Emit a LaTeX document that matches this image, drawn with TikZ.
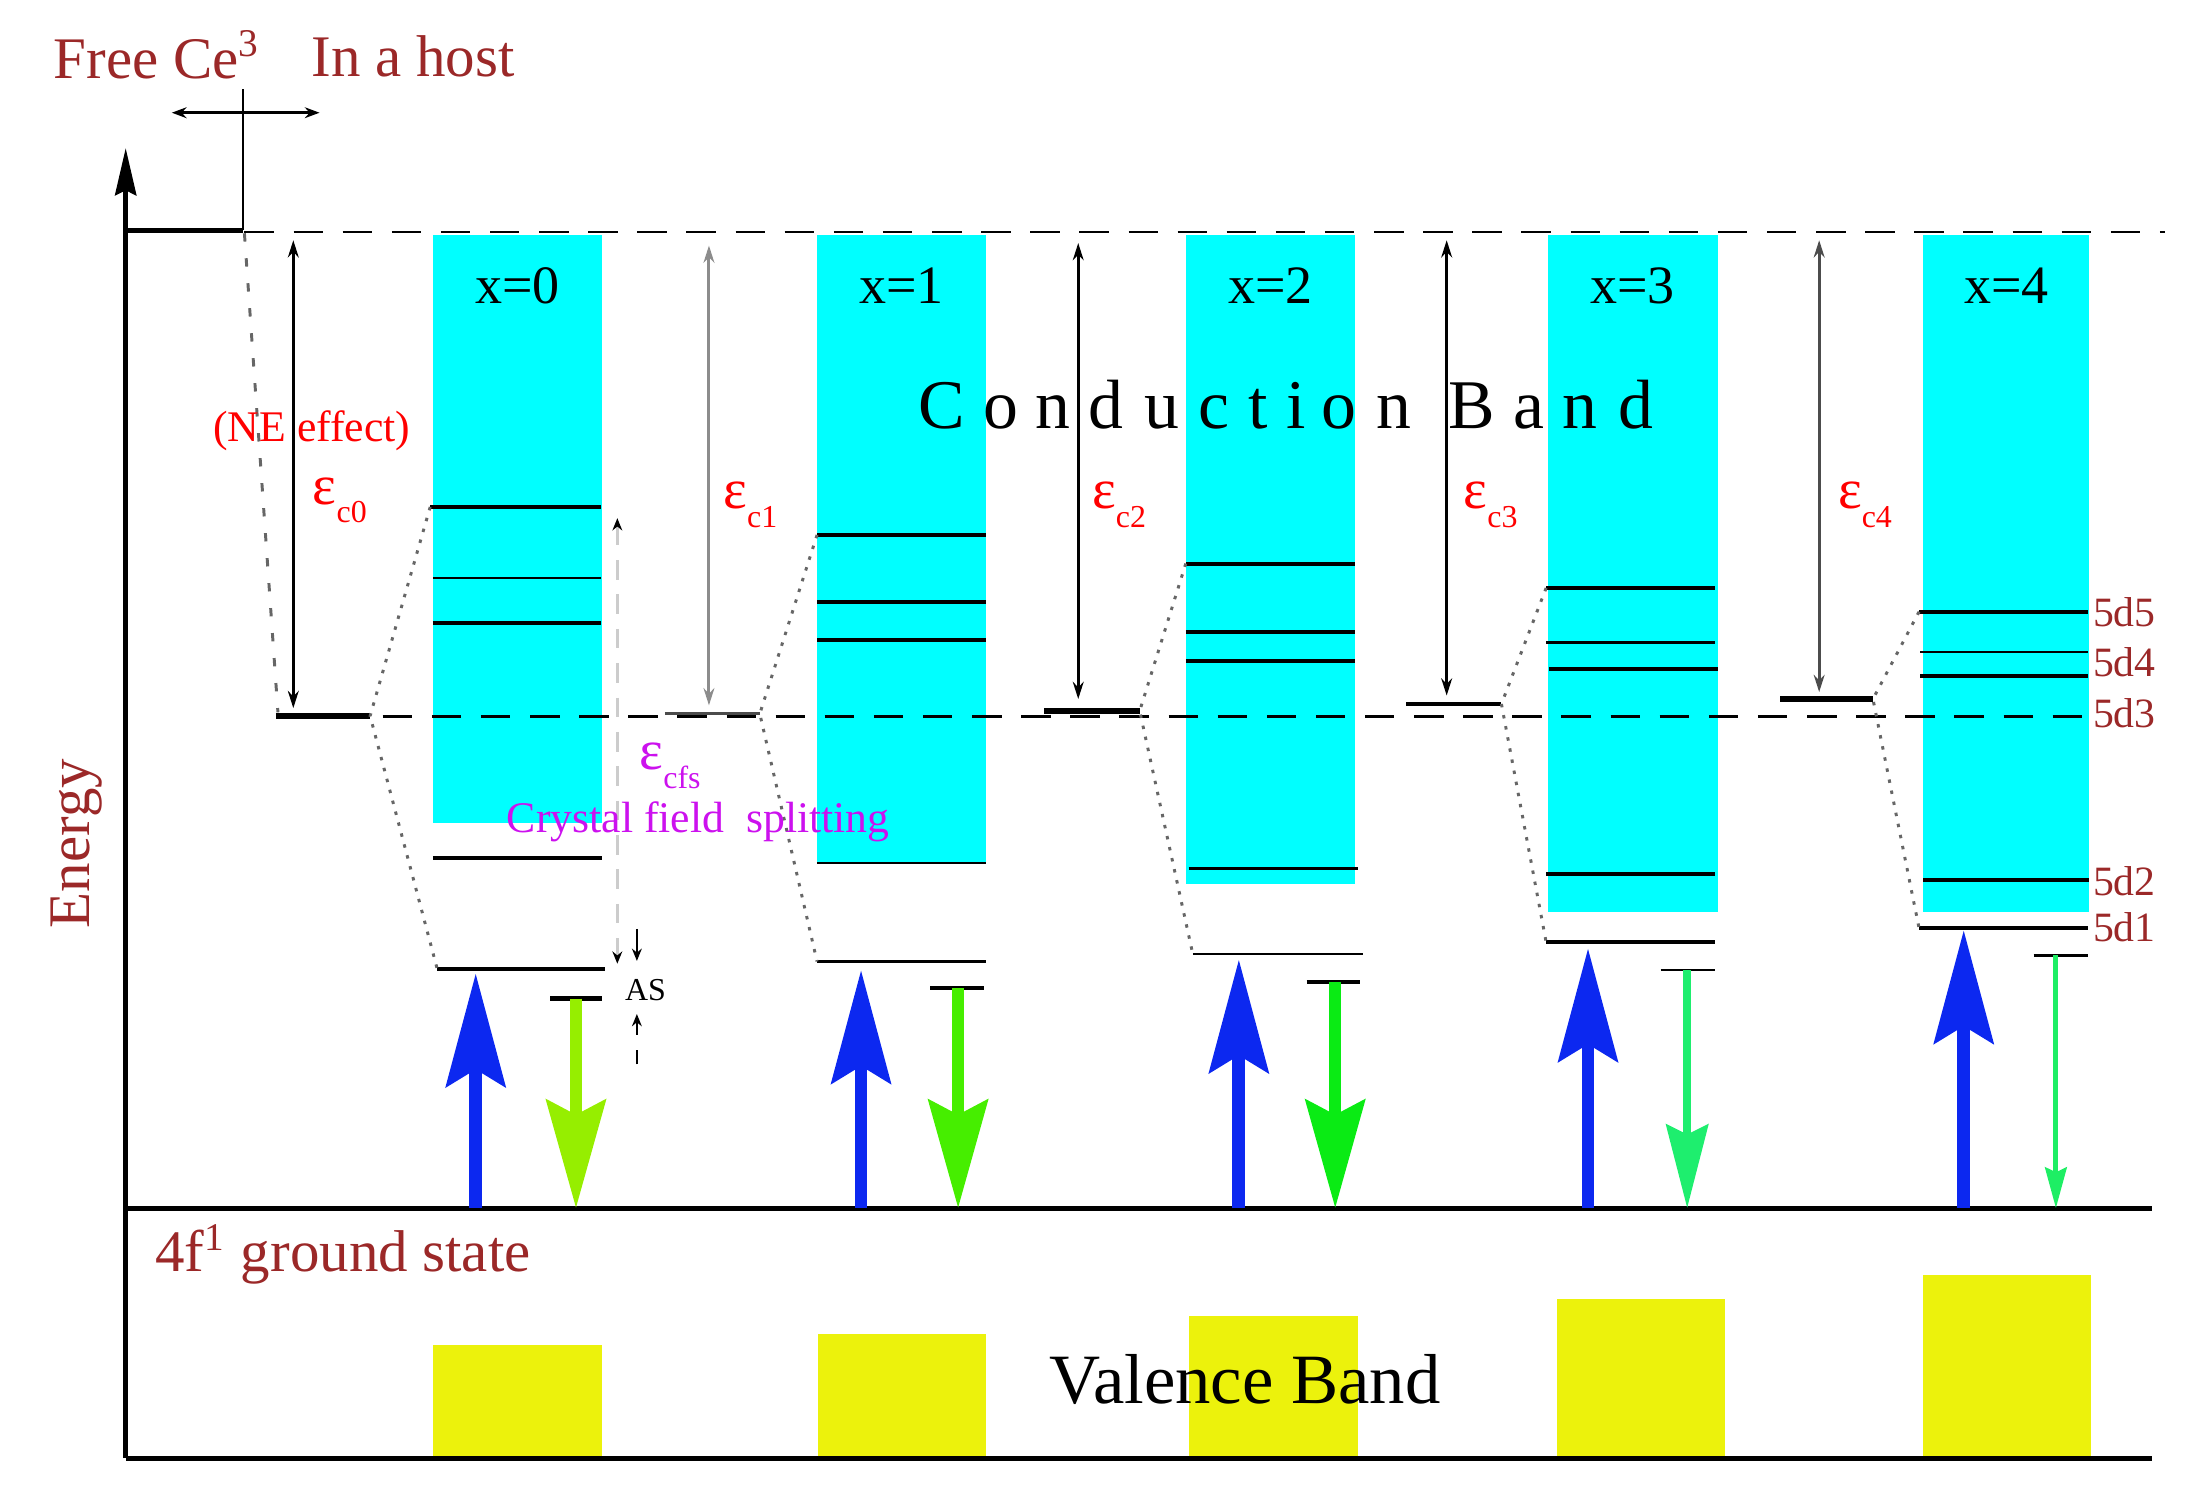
\documentclass[tikz,border=0pt]{standalone}
\usepackage{fontspec}
\setmainfont{Liberation Serif}
\usetikzlibrary{arrows.meta}

\definecolor{hostred}{RGB}{155,40,40}
\definecolor{cbcyan}{RGB}{0,255,255}
\definecolor{vbyellow}{RGB}{236,242,12}
\definecolor{pumpblue}{RGB}{12,40,240}
\definecolor{cfsviolet}{RGB}{204,17,238}
\definecolor{emitA}{RGB}{150,238,0}
\definecolor{emitB}{RGB}{70,238,0}
\definecolor{emitC}{RGB}{10,235,20}
\definecolor{emitD}{RGB}{30,238,110}
\definecolor{emitE}{RGB}{30,238,100}

\newcommand{\ecap}[1]{{\fontsize{11.5}{12}\selectfont ε}\raisebox{-3.8pt}{\fontsize{6.5}{7}\selectfont #1}}

\begin{document}
\begin{tikzpicture}[x=0.01cm, y=-0.01cm,
        every node/.style={inner sep=0pt, outer sep=0pt},
        hosttext/.style={hostred, font=\fontsize{12}{14}\selectfont},
        guide/.style={line width=0.5pt, dash pattern=on 6pt off 4pt},
        cfsdot/.style={black!60, line width=0.6pt, dash pattern=on 0.7pt off 1.6pt},
        ecarrow/.style={line width=0.6pt, {Stealth[length=3.5pt,width=2.2pt]}-{Stealth[length=3.5pt,width=2.2pt]}},
        pump/.style={pumpblue, line width=2.6pt, -{Stealth[length=23pt,width=12pt,inset=3.5pt]}},
        emit/.style={line width=2.5pt, -{Stealth[length=22pt,width=12pt,inset=3pt]}}
    ]
    \useasboundingbox (0,0) rectangle (1568,1063);

    % bands
    \foreach \n/\xl/\xr/\yb in {0/310/431/589, 1/585/706/618, 2/849/970/633, 3/1108/1230/653, 4/1377/1496/653} {
        \fill[cbcyan] (\xl,168) rectangle (\xr,\yb);
        \node[font=\fontsize{11}{12}\selectfont, anchor=base] (xlab\n) at ({(\xl+\xr)/2},217.5) {x=\n};
    }
    \foreach \xl/\xr/\yt in {310/431/963, 586/706/955, 851/972/942, 1115/1235/930, 1377/1497/913}
        \fill[vbyellow] (\xl,\yt) rectangle (\xr,1044);

    \foreach \ch/\cx [count=\i] in {C/674, o/717, n/754, d/792, u/832, c/869, t/901, i/928, o/959, n/998, B/1054, a/1095, n/1131, d/1171}
        \node[font=\fontsize{14.2}{16}\selectfont, anchor=base] (cb\i) at (\cx,307) {\ch};
    \node[font=\fontsize{14.4}{16}\selectfont, anchor=base west] (vb) at (751.6,1005) {Valence Band};

    % axes and frame
    \draw[line width=1pt, -{Stealth[length=9.6pt,width=4.3pt,inset=1pt]}] (90,1044) -- (90,106);
    \draw[line width=1pt] (90,865) -- (1541,865);
    \draw[line width=1pt] (90,1044) -- (1541,1044);
    \draw[line width=1pt] (90,165) -- (174,165);
    \draw[line width=0.6pt] (174,64) -- (174,165);
    \draw[line width=0.6pt, {Stealth[length=3pt,width=2.2pt]}-{Stealth[length=3pt,width=2.2pt]}] (123,80.7) -- (228.8,80.7);
    \draw[guide] (175,166) -- (1550,166);
    \draw[guide] (274,513) -- (1495,513);
    \draw[black!60, line width=0.6pt, dash pattern=on 1.7pt off 3.4pt] (175,167) -- (199,510);

    \node[hosttext, anchor=base west] (freeion) at (38.4,56) {Free Ce\textsuperscript{3}};
    \node[hosttext, anchor=base west] (inhost) at (223,55) {In a host};
    \node[hosttext, rotate=90, anchor=base] (energy) at (64,604) {Energy};
    \node[hosttext, anchor=base west] (ground) at (111,910.5) {4f\textsuperscript{1} ground state};

    % 5d levels
    \foreach \xl/\xr/\y/\w in {308/430/363/0.8, 310/430/414/0.5, 310/430/446/0.8, 310/431/614/0.8, 313/433/693.6/0.9, 394/431/715/0.9,
            585/706/383/0.8, 585/706/431/0.8, 585/706/458/0.8, 585/706/618/0.5, 585/706/688.4/0.8, 666/704.5/707.5/0.8,
            849/970/403.5/0.8, 849/970/452.5/0.8, 849/970/473.5/0.8, 851/972/621.8/0.8, 854/976/683/0.5, 935.5/973.7/703/0.8,
            1107/1228/421/0.8, 1107/1228/460/0.8, 1109/1230/479/0.8, 1107/1228/626/0.8, 1107/1228/674.5/0.8, 1189/1228/694.5/0.5,
            1374/1495/438/0.8, 1375/1495/467/0.5, 1375/1495/484/0.8, 1377/1496/630/0.8, 1374/1495/664.5/0.8, 1456/1495/683.8/0.6}
        \draw[line width=\w pt] (\xl,\y) -- (\xr,\y);

    % centroids and splitting
    \foreach \xl/\xr/\y/\w/\c in {197.6/265/512.6/1.1/black, 476/544/511/0.5/black!70, 747.5/816/509/1.1/black, 1007/1075/504/0.9/black, 1274.5/1341/500.5/1.1/black}
        \draw[\c, line width=\w pt] (\xl,\y) -- (\xr,\y);
    \foreach \cx/\cy/\ux/\uy/\lx/\ly in {265/512.6/308/363/313/693.6, 544/511/585/383/585/688.4, 816/509/849/403.5/854/683, 1075/504/1107/421/1107/674.5, 1341/500.5/1374/438/1374/664.5}
        \draw[cfsdot] (\ux,\uy) -- (\cx,\cy) -- (\lx,\ly);

    \foreach \x/\yt/\yb/\c in {210/172/507/black, 507.6/175.8/505/black!45, 772/174/500.5/black, 1035.8/172/498/black, 1302.5/172/495.5/black!70}
        \draw[ecarrow, \c] (\x,\yt) -- (\x,\yb);
    \foreach \x/\y/\k in {224/361/0, 518/364/1, 782/364/2, 1048/364/3, 1316/364/4}
        \node[red, anchor=base west] (ec\k) at (\x,\y) {\ecap{c\k}};
    \node[red, font=\fontsize{8.9}{10}\selectfont, anchor=base west] (ne) at (152.7,316) {(NE effect)};

    \draw[black!20, line width=0.5pt, dash pattern=on 4pt off 3pt, {Stealth[black,length=2.5pt,width=2pt]}-{Stealth[black,length=2.5pt,width=2pt]}] (442,371) -- (442,690);
    \node[cfsviolet, anchor=base west] (ecfs) at (458,551) {\ecap{cfs}};
    \node[cfsviolet, font=\fontsize{8.9}{10}\selectfont, anchor=base west] (cfs) at (363,596) {Crystal field~ splitting};
    \draw[line width=0.4pt, -{Stealth[length=2.5pt,width=2pt]}] (456,665) -- (456,688);
    \draw[line width=0.4pt, dash pattern=on 3pt off 3pt, -{Stealth[length=2.5pt,width=2pt]}] (456,762) -- (456,726);
    \node[font=\fontsize{6.5}{7}\selectfont, anchor=base west] (as) at (447.5,716) {AS};

    \foreach \lab/\yy in {5d5/448.7, 5d4/484.5, 5d3/521, 5d2/641, 5d1/674}
        \node[hostred, font=\fontsize{8.5}{9}\selectfont, anchor=base west] (\lab) at (1498.6,\yy) {\lab};

    % transitions
    \foreach \x/\yt in {340.6/697, 616.5/694.6, 887/687, 1137/679, 1406/666}
        \draw[pump] (\x,865) -- (\x,\yt);
    \draw[emit, emitA] (412.4,715) -- (412.4,865);
    \draw[emit, emitB] (686,707.5) -- (686,865);
    \draw[emit, emitC] (956,703) -- (956,865);
    \draw[emitD, line width=1.7pt, -{Stealth[length=17pt,width=8.5pt,inset=2pt]}] (1208,694.5) -- (1208,865);
    \draw[emitE, line width=1pt, -{Stealth[length=8.3pt,width=4.4pt,inset=1pt]}] (1472,683.8) -- (1472,865);
\end{tikzpicture}
\end{document}
